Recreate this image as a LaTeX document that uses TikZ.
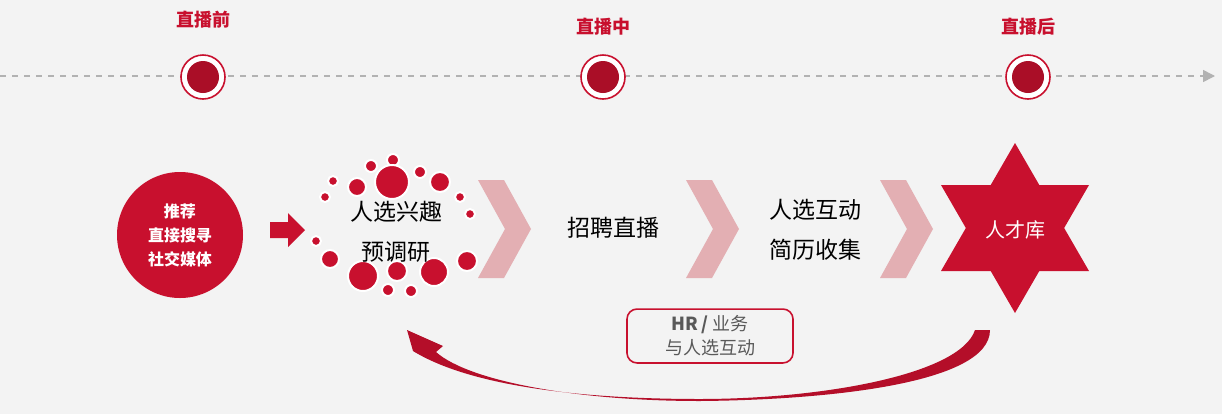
\documentclass[tikz,border=0pt]{standalone}
\usepackage{fontspec}
\setmainfont{Liberation Sans}
\newfontfamily\cjk{Noto Sans CJK SC}
\usetikzlibrary{arrows.meta,shapes.geometric}
\definecolor{redmain}{HTML}{C8102E}
\definecolor{redpale}{HTML}{E3AFB3}
\definecolor{bggray}{HTML}{F3F3F3}
\definecolor{txtgray}{HTML}{595959}
\tikzset{
  stage/.style={font=\cjk\bfseries\fontsize{9}{11}\selectfont, text=redmain},
  dot/.style={circle, fill=redmain, draw=white, line width=1pt, inner sep=0pt},
  bigtext/.style={font=\cjk\fontsize{11.5}{20}\selectfont, align=center},
  chevron/.style={fill=redpale}
}
\begin{document}
\begin{tikzpicture}[x=0.5pt,y=-0.5pt]
\fill[bggray] (0,0) rectangle (1222,414);
\useasboundingbox (0,0) rectangle (1222,414);
% time line
\coordinate (lstart) at (0,76);
\coordinate (lend) at (1215,76);
\draw[gray!60, dashed, line width=0.8pt, -{Triangle[length=6pt,width=6pt]}] (lstart) -- (lend);
\foreach \x/\lab/\ly [count=\i] in {203/直播前/20, 603/直播中/27, 1028/直播后/27}{
  \node[circle, fill=white, draw=redmain, line width=0.8pt, minimum size=22pt, inner sep=0pt] (m\i) at (\x,77) {};
  \node[circle, fill=redmain!85!black, minimum size=16pt, inner sep=0pt] at (m\i) {};
  \node[stage] (s\i) at (\x,\ly) {\lab};
}
% sources
\node[circle, fill=redmain, minimum size=63pt, inner sep=0pt, text=white,
  font=\cjk\bfseries\fontsize{8}{12}\selectfont, align=center] (src) at (180,235) {推荐\\直接搜寻\\社交媒体};
\fill[redmain] (270,222) -- (288,222) -- (288,213) -- (305,230) -- (288,247) -- (288,238) -- (270,238) -- cycle;
% survey dots
\foreach \x/\y/\r in {393/160/5, 371/166/5, 420/172/5, 333/181/4, 357/187/8, 392/182/16, 440/182/9,
  325/197/4, 460/197/4, 470/214/4, 316/241/4, 330/259/8, 363/276/14, 397/271/9, 434/272/13,
  467/261/9, 388/290/5, 411/291/5}{
  \node[dot, minimum size=\r pt+1pt] at (\x,\y) {};
}
\node[bigtext] (survey) at (396,232) {人选兴趣\\预调研};
% chevrons
\foreach \x in {478,686,880}{
  \fill[chevron] (\x,180) -- (\x+26,180) -- (\x+53,229) -- (\x+26,278) -- (\x,278) -- (\x+27,229) -- cycle;
}
\node[bigtext] (live) at (613,228) {招聘直播};
\node[bigtext] (talk) at (815,230) {人选互动\\简历收集};
% talent pool
\fill[redmain] (1015,143) -- (1089,271) -- (941,271) -- cycle;
\fill[redmain] (1015,313) -- (1089,185) -- (941,185) -- cycle;
\node[font=\cjk\fontsize{10}{12}\selectfont, text=white] (pool) at (1015,230) {人才库};
% feedback
\node[draw=redmain, line width=0.8pt, rounded corners=5pt, minimum width=83pt, minimum height=26pt,
  font=\cjk\fontsize{9}{12}\selectfont, text=txtgray, align=center] (hr) at (710,336) {\textbf{HR / }业务\\与人选互动};
\coordinate (fb) at (990,330);
\fill[redmain!90!black] (fb) .. controls (990,385) and (820,400) .. (700,401)
  .. controls (580,401) and (470,382) .. (436,352) -- (443,346) -- (407,330) -- (413,351)
  .. controls (470,386) and (580,399) .. (700,399)
  .. controls (820,399) and (960,375) .. (975,330) -- cycle;
\end{tikzpicture}
\end{document}
